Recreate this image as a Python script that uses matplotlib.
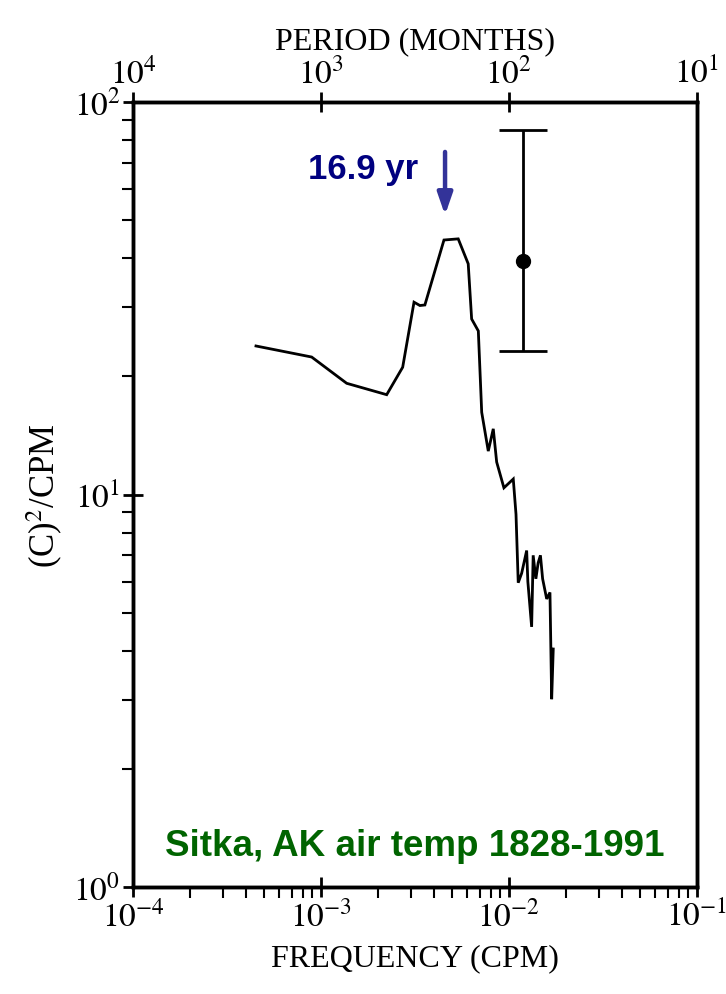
import matplotlib
matplotlib.use("Agg")
import matplotlib.pyplot as plt
from matplotlib.ticker import FixedLocator, NullLocator, FuncFormatter
import numpy as np

plt.rcParams['font.family'] = ['Liberation Serif', 'DejaVu Serif']
plt.rcParams['mathtext.fontset'] = 'stix'

# Spectrum (frequency in cycles per month, power)
freq = [4.51e-4, 8.92e-4, 1.37e-3, 2.236e-3, 2.72e-3, 3.125e-3, 3.36e-3, 3.57e-3,
        4.51e-3, 5.37e-3, 6.07e-3, 6.33e-3, 6.87e-3, 7.16e-3, 7.76e-3, 8.25e-3,
        8.6e-3, 9.4e-3, 1.054e-2, 1.09e-2, 1.12e-2, 1.168e-2, 1.242e-2, 1.26e-2,
        1.32e-2, 1.345e-2, 1.39e-2, 1.43e-2, 1.47e-2, 1.51e-2, 1.587e-2, 1.652e-2,
        1.687e-2, 1.72e-2]
power = [23.9, 22.4, 19.2, 17.96, 21.1, 30.9, 30.3, 30.4,
         44.5, 44.8, 38.7, 28.0, 26.1, 16.2, 12.9, 14.7,
         12.1, 10.4, 10.95, 8.9, 5.96, 6.3, 7.2, 6.0,
         4.6, 7.0, 6.1, 6.7, 7.0, 6.1, 5.42, 5.63,
         3.01, 4.04]

# Confidence interval bar
ci_freq = 1.19e-2
ci_center = 39.4
ci_low = 23.2
ci_high = 84.9

# Peak annotation
peak_freq = 4.57e-3
peak_label = "16.9 yr"
title_text = "Sitka, AK air temp 1828-1991"

xticks = [1e-4, 1e-3, 1e-2, 1e-1]
yticks = [1e0, 1e1, 1e2]
period_ticks = [1e4, 1e3, 1e2, 1e1]

fig = plt.figure(figsize=(7.26, 9.95), dpi=100)
ax = fig.add_axes([0.1832, 0.1075, 0.7768, 0.7890])
ax.set_xscale('log')
ax.set_yscale('log')
ax.set_xlim(1e-4, 1e-1)
ax.set_ylim(1e0, 1e2)

ax.plot(freq, power, color='black', lw=2.0, solid_joinstyle='miter')

ax.errorbar([ci_freq], [ci_center],
            yerr=[[ci_center - ci_low], [ci_high - ci_center]],
            fmt='o', color='black', ms=10, lw=2.0, capsize=17, capthick=2.0)

ax.annotate('', xy=(peak_freq, 51.5), xytext=(peak_freq, 74.6),
            arrowprops=dict(arrowstyle='-|>,head_width=0.45,head_length=1.3',
                            color='#333399', lw=3.2, shrinkA=0, shrinkB=0))
ax.text(1.67e-3, 67.5, peak_label, color='#000080', fontsize=25, fontweight='bold',
        family='Liberation Sans', ha='center', va='center')

ax.text(0.5, 0.03, title_text, transform=ax.transAxes, color='#006400',
        fontsize=26.5, fontweight='bold', family='Liberation Sans',
        ha='center', va='bottom')

def pow_fmt(v, pos):
    return r'$10^{%d}$' % int(round(np.log10(v)))

for s in ['left', 'bottom', 'top', 'right']:
    ax.spines[s].set_linewidth(2.5)

ax.xaxis.set_major_locator(FixedLocator(xticks))
ax.xaxis.set_major_formatter(FuncFormatter(pow_fmt))
ax.yaxis.set_major_locator(FixedLocator(yticks))
ax.yaxis.set_major_formatter(FuncFormatter(pow_fmt))
ax.tick_params(axis='both', which='major', direction='inout', length=14, width=2,
               labelsize=24)
ax.tick_params(axis='both', which='minor', direction='out', length=8, width=1.5)
ax.tick_params(axis='x', which='major', pad=2)
ax.tick_params(axis='y', which='major', pad=2)

ax.set_xlabel('FREQUENCY (CPM)', fontsize=23, labelpad=8)
ax.set_ylabel(r'(C)$^2$/CPM', fontsize=25, labelpad=6)

ax2 = ax.twiny()
ax2.set_xscale('log')
ax2.set_xlim(1 / 1e-4, 1 / 1e-1)
ax2.xaxis.set_major_locator(FixedLocator(period_ticks))
ax2.xaxis.set_minor_locator(NullLocator())
ax2.xaxis.set_major_formatter(FuncFormatter(pow_fmt))
ax2.tick_params(axis='x', which='major', direction='inout', length=14, width=2,
                labelsize=24, pad=2)
ax2.set_xlabel('PERIOD (MONTHS)', fontsize=23, labelpad=6)
for s in ['left', 'bottom', 'top', 'right']:
    ax2.spines[s].set_linewidth(2.5)

fig.savefig('out.png', dpi=100)
